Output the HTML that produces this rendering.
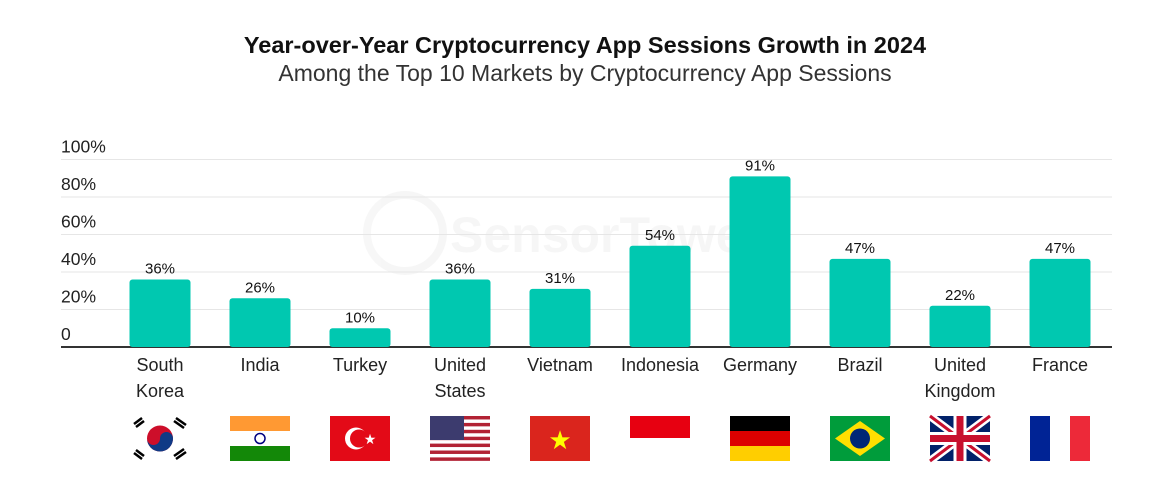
<!DOCTYPE html>
<html><head><meta charset="utf-8"><style>
body{margin:0;background:#fff;}
svg{display:block;font-family:"Liberation Sans",sans-serif;}
</style></head><body>
<svg width="1149" height="488" viewBox="0 0 1149 488">
<text x="585" y="53" text-anchor="middle" font-size="23.5" font-weight="bold" fill="#111">Year-over-Year Cryptocurrency App Sessions Growth in 2024</text>
<text x="585" y="81" text-anchor="middle" font-size="23" fill="#333">Among the Top 10 Markets by Cryptocurrency App Sessions</text>
<g opacity="0.03"><circle cx="405" cy="233" r="38" fill="none" stroke="#000" stroke-width="8"/><text x="450" y="252" font-size="50" font-weight="bold">SensorTower</text></g>
<g id="grid"></g><g id="bars"></g><g id="flags"></g>
</svg>
<script>
const categories=["South Korea","India","Turkey","United States","Vietnam","Indonesia","Germany","Brazil","United Kingdom","France"];
const labelLines=[["South","Korea"],["India"],["Turkey"],["United","States"],["Vietnam"],["Indonesia"],["Germany"],["Brazil"],["United","Kingdom"],["France"]];
const values=[36,26,10,36,31,54,91,47,22,47];
const ticks=[0,20,40,60,80,100];
const tickLabels=["0","20%","40%","60%","80%","100%"];
const NS="http://www.w3.org/2000/svg";
function y(v){return 347-v*1.875;}
function x(i){return 160+i*100;}
function mk(t,a,p){const e=document.createElementNS(NS,t);for(const k in a)e.setAttribute(k,a[k]);p.appendChild(e);return e;}
const grid=document.getElementById('grid');
ticks.forEach((t,i)=>{
 if(t>0){const l=mk('line',{x1:61,x2:1112,y1:y(t),y2:y(t),stroke:'#e6e6e6','stroke-width':1},grid);
 
 }
 const tx=mk('text',{x:61,y:y(t)-7,'font-size':17.5,fill:'#222'},grid);tx.textContent=tickLabels[i];
 
 
});
const ax=mk('line',{x1:61,x2:1112,y1:347,y2:347,stroke:'#333','stroke-width':2},grid);


const bars=document.getElementById('bars');
values.forEach((v,i)=>{
 const r=mk('rect',{x:x(i)-30.5,y:y(v),width:61,height:347-y(v),rx:3,fill:'#00c8b0'},bars);
 
 
 const t=mk('text',{x:x(i),y:y(v)-6,'text-anchor':'middle','font-size':15,fill:'#111'},bars);t.textContent=v+'%';
 
 
 labelLines[i].forEach((s,j)=>{
  const c=mk('text',{x:x(i),y:371+j*26,'text-anchor':'middle','font-size':18,fill:'#222'},bars);c.textContent=s;
  
  
 });
});
const flags=document.getElementById('flags');
function flag(i,inner){const g=mk('g',{transform:'translate('+(x(i)-30)+',416)'},flags);g.innerHTML=inner;
 
 }
flag(0,'<rect width="60" height="45" fill="#fff"/><circle cx="30" cy="22.5" r="13" fill="#cd0e2a"/><path d="M17 22.5a13 13 0 0 0 26 0a6.5 6.5 0 0 0-13 0a6.5 6.5 0 0 1-13 0z" fill="#0f3a86"/><g stroke="#000" stroke-width="2.5"><line x1="4" y1="8" x2="12" y2="2"/><line x1="6" y1="11" x2="14" y2="5"/><line x1="46" y1="2" x2="56" y2="9"/><line x1="44" y1="5" x2="54" y2="12"/><line x1="4" y1="37" x2="12" y2="43"/><line x1="6" y1="34" x2="14" y2="40"/><line x1="46" y1="43" x2="56" y2="36"/><line x1="44" y1="40" x2="54" y2="33"/></g>');
flag(1,'<rect width="60" height="15" fill="#ff9933"/><rect y="15" width="60" height="15" fill="#fff"/><rect y="30" width="60" height="15" fill="#138808"/><circle cx="30" cy="22.5" r="5" fill="none" stroke="#000080" stroke-width="1.5"/>');
flag(2,'<rect width="60" height="45" fill="#e30a17"/><circle cx="26" cy="22.5" r="11" fill="#fff"/><circle cx="29" cy="22.5" r="9" fill="#e30a17"/><text x="40" y="28" font-size="14" fill="#fff" text-anchor="middle">★</text>');
let us='<rect width="60" height="45" fill="#fff"/>';for(let k=0;k<7;k++)us+='<rect y="'+(k*6.9)+'" width="60" height="3.46" fill="#b22234"/>';us+='<rect width="34" height="24" fill="#3c3b6e"/>';
flag(3,us);
flag(4,'<rect width="60" height="45" fill="#da251d"/><text x="30" y="33" font-size="26" fill="#ff0" text-anchor="middle">★</text>');
flag(5,'<rect width="60" height="22" fill="#e70011"/>');
flag(6,'<rect width="60" height="15" fill="#000"/><rect y="15" width="60" height="15" fill="#dd0000"/><rect y="30" width="60" height="15" fill="#ffce00"/>');
flag(7,'<rect width="60" height="45" fill="#009c3b"/><polygon points="30,5 55,22.5 30,40 5,22.5" fill="#ffdf00"/><circle cx="30" cy="22.5" r="10" fill="#002776"/>');
flag(8,'<rect width="60" height="45" fill="#012169"/><path d="M0 0L60 45M60 0L0 45" stroke="#fff" stroke-width="8"/><path d="M0 0L60 45M60 0L0 45" stroke="#c8102e" stroke-width="3"/><path d="M30 0V45M0 22.5H60" stroke="#fff" stroke-width="13"/><path d="M30 0V45M0 22.5H60" stroke="#c8102e" stroke-width="7"/>');
flag(9,'<rect width="20" height="45" fill="#002395"/><rect x="20" width="20" height="45" fill="#fff"/><rect x="40" width="20" height="45" fill="#ed2939"/>');
</script>
</body></html>
